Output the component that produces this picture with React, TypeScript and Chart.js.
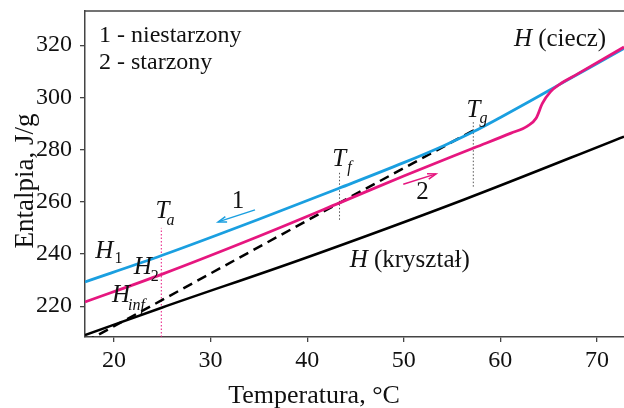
import React, { useEffect, useRef } from "react";
import { Chart, registerables } from "chart.js";

Chart.register(...registerables);

const FONT = '"Liberation Serif", "Times New Roman", serif';

// Axis ranges and ticks
const xMin = 17;
const xMax = 72.8;
const yMin = 208.2;
const yMax = 333.1;
const xTickStep = 10;
const yTickStep = 20;

// Curve 1 – niestarzony (H1)
const t1 = [17, 25, 35, 43.3, 50, 54.2, 57.3, 60, 63, 66.1, 69, 72.8];
const h1 = [229.3, 239.5, 253.3, 265.2, 275.0, 281.6, 287.0, 292.3, 298.4, 304.9, 310.9, 318.8];

// Curve 2 – starzony (H2)
const t2 = [17, 25, 35, 43.3, 50, 57.3, 61.1, 62.8, 63.7, 64.35, 65.2, 66.1, 68, 72.8];
const h2 = [221.6, 232.3, 246.8, 259.5, 269.9, 280.7, 286.3, 289.0, 292.0, 297.7, 302.2, 304.9, 309.0, 319.3];

// Extrapolated liquid line (H_inf), dashed
const tInf = [17, 25, 43.3, 57.2];
const hInf = [206.3, 222.4, 259.5, 287.3];

// Crystal line
const tCryst = [17, 25, 39.3, 56.2, 72.8];
const hCryst = [208.9, 219.5, 237.8, 260.8, 285.0];

// Characteristic temperatures and their marker spans
const Ta = 24.9;
const Tf = 43.35;
const Tg = 57.2;
const taSpan = [208.2, 250.0];
const tfSpan = [253.1, 271.6];
const tgSpan = [265.8, 290.7];

// Text
const legendLines = ["1 - niestarzony", "2 - starzony"];
const xTitle = "Temperatura, °C";
const yTitle = "Entalpia, J/g";

type SymLabel = { t: number; h: number; main: string; sub?: string; subItalic?: boolean; dx?: number; dy?: number; rest?: string };
const symLabels: SymLabel[] = [
  { t: 24.3, h: 253.7, main: "T", sub: "a", subItalic: true, dx: -3, dy: 7 },
  { t: 42.6, h: 273.8, main: "T", sub: "f", subItalic: true, dx: 1, dy: 6 },
  { t: 56.5, h: 292.6, main: "T", sub: "g", subItalic: true, dx: -1, dy: 6 },
  { t: 18.07, h: 238.4, main: "H", sub: "1", subItalic: false, dx: 1, dy: 5 },
  { t: 22.04, h: 232.4, main: "H", sub: "2", subItalic: false, dx: -1, dy: 7 },
  { t: 19.8, h: 221.8, main: "H", sub: "inf", subItalic: true, dx: -2, dy: 8 },
  { t: 61.4, h: 319.5, main: "H", rest: " (ciecz)" },
  { t: 44.4, h: 235.2, main: "H", rest: " (kryształ)" },
];

const numLabels = [
  { t: 32.84, h: 260.0, text: "1" },
  { t: 51.95, h: 263.4, text: "2" },
];

const BLUE = "#1a9fe0";
const PINK = "#e6167f";

const arrows = [
  { t0: 34.6, h0: 256.9, t1: 30.78, h1: 252.3, color: BLUE },
  { t0: 49.95, h0: 266.7, t1: 53.34, h1: 270.7, color: PINK },
];

const pts = (xs: number[], ys: number[]) => xs.map((x, i) => ({ x, y: ys[i] }));

const annotPlugin = {
  id: "annot",
  afterDatasetsDraw(chart: any) {
    const { ctx, chartArea: ca, scales } = chart;
    const px = (v: number) => scales.x.getPixelForValue(v);
    const py = (v: number) => scales.y.getPixelForValue(v);
    ctx.save();
    // top frame line
    ctx.strokeStyle = "#444";
    ctx.lineWidth = 1.5;
    ctx.beginPath();
    ctx.moveTo(ca.left, ca.top);
    ctx.lineTo(ca.right, ca.top);
    ctx.stroke();

    ctx.fillStyle = "#111";
    ctx.textAlign = "left";
    ctx.textBaseline = "alphabetic";
    for (const l of symLabels) {
      const x = px(l.t);
      const y = py(l.h);
      ctx.font = `italic 25px ${FONT}`;
      ctx.fillText(l.main, x, y);
      const w = ctx.measureText(l.main).width;
      if (l.sub) {
        ctx.font = `${l.subItalic ? "italic " : ""}16px ${FONT}`;
        ctx.fillText(l.sub, x + w + (l.dx || 0), y + (l.dy || 0));
      }
      if (l.rest) {
        ctx.font = `25px ${FONT}`;
        ctx.fillText(l.rest, x + w, y);
      }
    }
    ctx.textAlign = "center";
    ctx.textBaseline = "middle";
    ctx.font = `25px ${FONT}`;
    for (const n of numLabels) ctx.fillText(n.text, px(n.t), py(n.h));

    // arrows
    for (const a of arrows) {
      const x0 = px(a.t0), y0 = py(a.h0), x1 = px(a.t1), y1 = py(a.h1);
      ctx.strokeStyle = a.color;
      ctx.lineWidth = 1.5;
      ctx.beginPath();
      ctx.moveTo(x0, y0);
      ctx.lineTo(x1, y1);
      ctx.stroke();
      const ang = Math.atan2(y1 - y0, x1 - x0);
      const L = 9, s = 0.32;
      ctx.beginPath();
      ctx.moveTo(x1 - L * Math.cos(ang - s), y1 - L * Math.sin(ang - s));
      ctx.lineTo(x1, y1);
      ctx.lineTo(x1 - L * Math.cos(ang + s), y1 - L * Math.sin(ang + s));
      ctx.stroke();
    }

    // legend text
    ctx.textAlign = "left";
    ctx.textBaseline = "alphabetic";
    ctx.font = `24px ${FONT}`;
    ctx.fillText(legendLines[0], ca.left + 14, ca.top + 31);
    ctx.fillText(legendLines[1], ca.left + 14, ca.top + 57.5);

    // axis titles
    ctx.font = `26px ${FONT}`;
    ctx.textAlign = "center";
    ctx.fillText(xTitle, 314, 403);
    ctx.save();
    ctx.translate(33, 181);
    ctx.rotate(-Math.PI / 2);
    ctx.font = `27px ${FONT}`;
    ctx.fillText(yTitle, 0, 0);
    ctx.restore();

    ctx.restore();
  },
};

export default function App() {
  const ref = useRef<HTMLCanvasElement | null>(null);
  useEffect(() => {
    document.body.style.margin = "0";
    const canvas = ref.current!;
    const dotted = (t: number, span: number[], color: string) => ({
      data: [{ x: t, y: span[0] }, { x: t, y: span[1] }],
      borderColor: color,
      borderWidth: 1,
      borderDash: [1.5, 2],
      pointRadius: 0,
      tension: 0,
    });
    const chart = new Chart(canvas, {
      type: "line",
      data: {
        datasets: [
          { data: pts(t2, h2), borderColor: PINK, borderWidth: 2.8, pointRadius: 0, cubicInterpolationMode: "monotone" },
          { data: pts(t1, h1), borderColor: BLUE, borderWidth: 2.8, pointRadius: 0, cubicInterpolationMode: "monotone" },
          { data: pts(tInf, hInf), borderColor: "#000", borderWidth: 2.5, borderDash: [10, 6], pointRadius: 0, tension: 0 },
          { data: pts(tCryst, hCryst), borderColor: "#000", borderWidth: 2.5, pointRadius: 0, cubicInterpolationMode: "monotone" },
          dotted(Ta, taSpan, PINK),
          dotted(Tf, tfSpan, "#555"),
          dotted(Tg, tgSpan, "#555"),
        ] as any,
      },
      options: {
        responsive: false,
        animation: false,
        devicePixelRatio: 1,
        layout: { padding: { top: 11, left: 0, right: 0, bottom: 0 } },
        plugins: { legend: { display: false }, tooltip: { enabled: false } },
        scales: {
          x: {
            type: "linear",
            min: xMin,
            max: xMax,
            border: { display: true, color: "#444", width: 1.5 },
            grid: { display: true, drawOnChartArea: false, drawTicks: true, tickLength: 5, color: "#444", lineWidth: 1.3 },
            ticks: { stepSize: xTickStep, includeBounds: false, padding: 4, color: "#111", font: { family: FONT, size: 24 } },
            afterFit: (s: any) => {
              s.height = 71;
              s.paddingLeft = 0; s.paddingRight = 0; s.paddingTop = 0; s.paddingBottom = 0;
            },
          },
          y: {
            type: "linear",
            min: yMin,
            max: yMax,
            border: { display: true, color: "#444", width: 1.5 },
            grid: { display: true, drawOnChartArea: false, drawTicks: true, tickLength: 5, color: "#444", lineWidth: 1.3 },
            ticks: { stepSize: yTickStep, includeBounds: false, padding: 8, color: "#111", font: { family: FONT, size: 24 } },
            afterFit: (s: any) => {
              s.width = 85;
              s.paddingLeft = 0; s.paddingRight = 0; s.paddingTop = 0; s.paddingBottom = 0;
            },
          },
        },
      } as any,
      plugins: [annotPlugin],
    });
    return () => chart.destroy();
  }, []);
  return (
    <div style={{ position: "absolute", left: 0, top: 0, width: 624, height: 408, background: "#fff" }}>
      <canvas ref={ref} width={624} height={408} style={{ display: "block" }} />
    </div>
  );
}
